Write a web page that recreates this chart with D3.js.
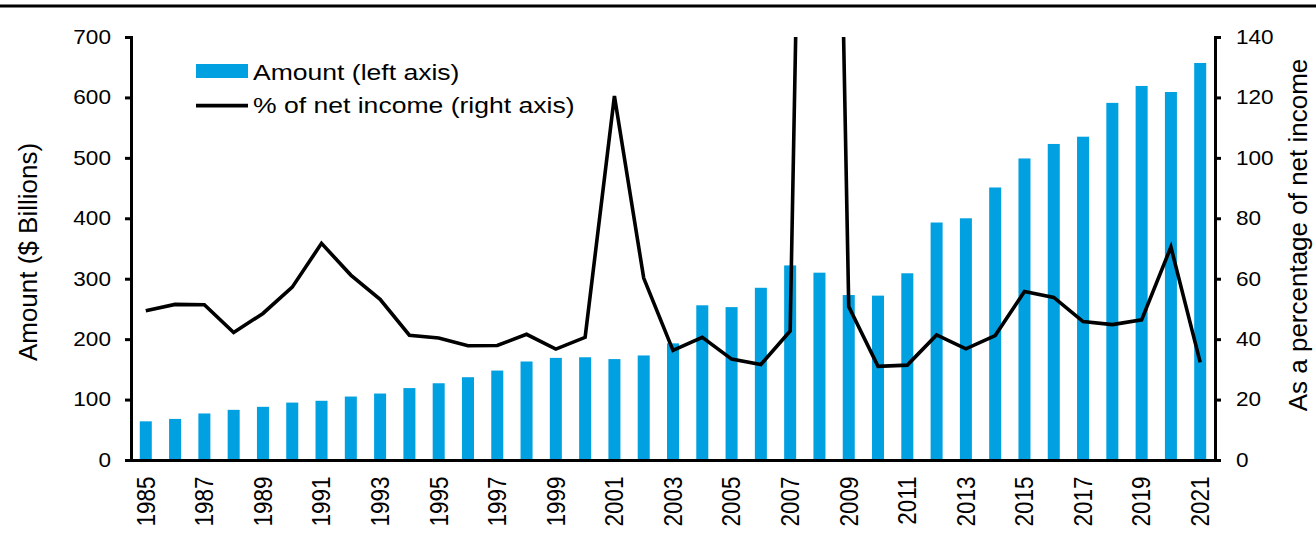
<!DOCTYPE html>
<html>
<head>
<meta charset="utf-8">
<script src="https://cdn.jsdelivr.net/npm/d3@7/dist/d3.min.js"></script>
<style>
  html, body { margin: 0; padding: 0; background: #fff; }
  svg { display: block; font-family: "Liberation Sans", Arial, sans-serif; }
</style>
</head>
<body>
<svg id="chart" width="1316" height="541"></svg>
<script>
// Annual amounts ($ billions) and the same amount as % of net income
const years = d3.range(1985, 2022);
const amount = [64, 68, 77, 83, 88, 95, 98, 105, 110, 119, 127, 137, 148, 163, 169, 170, 167, 173,
                193, 256, 253, 285, 322, 310, 273, 272, 309, 393, 400, 451, 499, 523, 535, 591, 619, 609, 657];
const pctIncome = [49.4, 51.5, 51.4, 42.2, 48.5, 57.2, 71.7, 61.2, 53.2, 41.3, 40.4, 37.8, 37.9, 41.6,
                   36.7, 40.6, 120.5, 60.2, 36.3, 40.6, 33.4, 31.6, 42.7, 560, 50.8, 31.0, 31.4, 41.4,
                   36.8, 41.2, 55.8, 53.8, 45.8, 44.8, 46.4, 70.5, 32.3];
const leftTicks = [0, 100, 200, 300, 400, 500, 600, 700];
const rightTicks = [0, 20, 40, 60, 80, 100, 120, 140];
const labelYears = years.filter(y => (y - 1985) % 2 === 0);

const svg = d3.select("#chart");
const m = { left: 131, right: 1215, top: 37, bottom: 460 };
const wide = 1.13;   // horizontal stretch applied to upright text

const x = d3.scaleBand().domain(years).range([m.left, m.right]).paddingInner(0.59).paddingOuter(0.3);
const yL = d3.scaleLinear().domain([0, 700]).range([m.bottom, m.top]);
const yR = d3.scaleLinear().domain([0, 140]).range([m.bottom, m.top]);

// rule across the top of the figure
svg.append("line").attr("x1", 0).attr("x2", 1316).attr("y1", 6).attr("y2", 6)
  .attr("stroke", "#000").attr("stroke-width", 3);

// bars
svg.append("g").selectAll("rect").data(years).join("rect")
  .attr("x", d => x(d))
  .attr("width", x.bandwidth())
  .attr("y", (d, i) => yL(amount[i]))
  .attr("height", (d, i) => yL(0) - yL(amount[i]))
  .attr("fill", "#00A0E1");

// line, clipped to the plot area
svg.append("clipPath").attr("id", "plotClip").append("rect")
  .attr("x", m.left).attr("y", m.top).attr("width", m.right - m.left).attr("height", m.bottom - m.top);
const line = d3.line().x((d, i) => x(years[i]) + x.bandwidth() / 2).y(d => yR(d));
svg.append("path").datum(pctIncome)
  .attr("clip-path", "url(#plotClip)")
  .attr("d", line)
  .attr("fill", "none").attr("stroke", "#000").attr("stroke-width", 3.6).attr("stroke-linejoin", "miter");

// axes
const styleAxis = g => {
  g.select(".domain").attr("stroke", "#000").attr("stroke-width", 3);
  g.selectAll(".tick line").attr("stroke", "#000").attr("stroke-width", 3);
  g.selectAll(".tick text").each(function () {
    const t = d3.select(this);
    const tx = +t.attr("x");
    t.attr("fill", "#000").attr("font-size", 20)
      .attr("transform", `translate(${tx},0) scale(${wide},1)`).attr("x", 0);
  });
};
svg.append("g").attr("transform", `translate(${m.left},0)`)
  .call(d3.axisLeft(yL).tickValues(leftTicks).tickSize(6).tickPadding(14).tickSizeOuter(6))
  .call(styleAxis);
svg.append("g").attr("transform", `translate(${m.right},0)`)
  .call(d3.axisRight(yR).tickValues(rightTicks).tickSize(6).tickPadding(15).tickSizeOuter(6))
  .call(styleAxis);

const xAxis = svg.append("g").attr("transform", `translate(0,${m.bottom})`)
  .call(d3.axisBottom(x).tickValues(labelYears).tickSize(0).tickPadding(0).tickSizeOuter(0));
xAxis.select(".domain").attr("stroke", "#000").attr("stroke-width", 3);
xAxis.selectAll(".tick text")
  .attr("font-size", 22.5).attr("fill", "#000")
  .attr("text-anchor", "end")
  .attr("dy", "0.35em")
  .attr("transform", "translate(0,16.5) rotate(-90) scale(1,1.12)")
  .attr("x", 0).attr("y", 0);

// axis titles
svg.append("text")
  .attr("transform", `translate(37,252) rotate(-90)`)
  .attr("text-anchor", "middle").attr("font-size", 26).attr("fill", "#000")
  .text("Amount ($ Billions)");
svg.append("text")
  .attr("transform", `translate(1307,235) rotate(-90)`)
  .attr("text-anchor", "middle").attr("font-size", 26).attr("fill", "#000")
  .text("As a percentage of net income");

// legend
const legend = svg.append("g");
legend.append("rect").attr("x", 196).attr("y", 64).attr("width", 52).attr("height", 14).attr("fill", "#00A0E1");
legend.append("text").attr("transform", "translate(253,79.5) scale(1.18,1)")
  .attr("font-size", 22.5).attr("fill", "#000")
  .text("Amount (left axis)");
legend.append("line").attr("x1", 196).attr("x2", 248).attr("y1", 105.7).attr("y2", 105.7)
  .attr("stroke", "#000").attr("stroke-width", 3.8);
legend.append("text").attr("transform", "translate(253,112.5) scale(1.18,1)")
  .attr("font-size", 22.5).attr("fill", "#000")
  .text("% of net income (right axis)");
</script>
</body>
</html>
